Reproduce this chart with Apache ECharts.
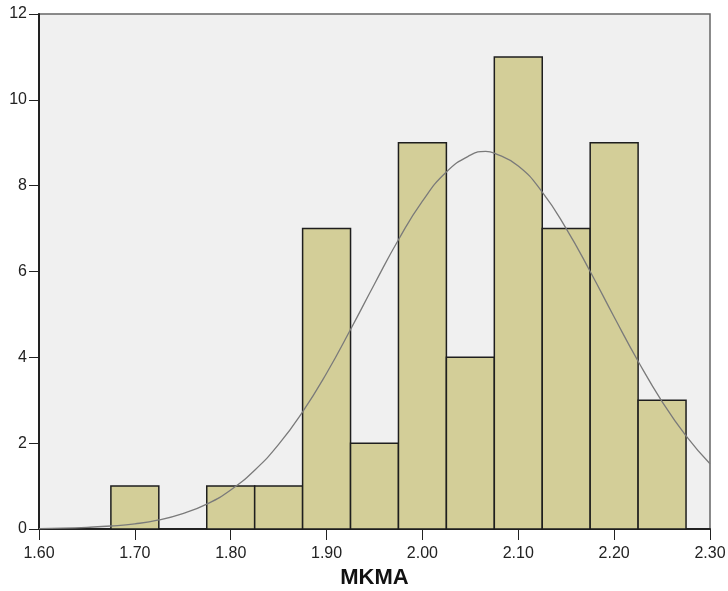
<!DOCTYPE html>
<html>
<head>
<meta charset="utf-8">
<script src="https://cdn.jsdelivr.net/npm/echarts@6/dist/echarts.min.js"></script>
<style>
  html, body { margin: 0; padding: 0; background: #ffffff; }
  #chart { width: 728px; height: 591px; }
</style>
</head>
<body>
<div id="chart"></div>
<script>
// Histogram of MKMA (bin width 0.05) with fitted normal curve
const binCenters = [1.70, 1.75, 1.80, 1.85, 1.90, 1.95, 2.00, 2.05, 2.10, 2.15, 2.20, 2.25];
const binCounts  = [1, 0, 1, 1, 7, 2, 9, 4, 11, 7, 9, 3];
const binWidth = 0.05;

// Normal curve sampled along the axis
const curveX = [1.600, 1.625, 1.650, 1.675, 1.700, 1.725, 1.750, 1.775, 1.800, 1.825,
                1.850, 1.875, 1.900, 1.925, 1.950, 1.975, 2.000, 2.025, 2.050, 2.066,
                2.075, 2.100, 2.125, 2.150, 2.175, 2.200, 2.225, 2.250, 2.275, 2.300];
const curveY = [0.01, 0.02, 0.04, 0.07, 0.12, 0.21, 0.36, 0.58, 0.91, 1.37,
                1.97, 2.73, 3.63, 4.65, 5.71, 6.74, 7.64, 8.32, 8.71, 8.80,
                8.76, 8.46, 7.85, 7.00, 6.00, 4.94, 3.91, 2.97, 2.17, 1.52];

const xTicks = { min: 1.6, max: 2.3, step: 0.1 };
const yTicks = { min: 0, max: 12, step: 2 };

const bars = binCenters
  .map((c, i) => [c - binWidth / 2, c + binWidth / 2, binCounts[i]])
  .filter(d => d[2] > 0);

const chart = echarts.init(document.getElementById('chart'));
chart.setOption({
  animation: false,
  backgroundColor: '#ffffff',
  grid: {
    left: 39, right: 18, top: 14, bottom: 62,
    containLabel: false,
    outerBoundsMode: 'none',
    show: true,
    backgroundColor: '#f0f0f0',
    borderColor: '#666666',
    borderWidth: 1.5
  },
  xAxis: {
    type: 'value',
    min: xTicks.min, max: xTicks.max, interval: xTicks.step,
    name: 'MKMA',
    nameLocation: 'middle',
    nameGap: 38,
    nameTextStyle: { fontFamily: 'Liberation Sans', fontWeight: 'bold', fontSize: 22, color: '#111' },
    axisLine: { show: true, onZero: false, lineStyle: { color: '#222', width: 2 } },
    axisTick: { show: true, length: 11, lineStyle: { color: '#222', width: 1 } },
    axisLabel: {
      margin: 17,
      fontFamily: 'Liberation Sans', fontSize: 16, color: '#222',
      formatter: v => v.toFixed(2)
    },
    splitLine: { show: false }
  },
  yAxis: {
    type: 'value',
    min: yTicks.min, max: yTicks.max, interval: yTicks.step,
    axisLine: { show: true, lineStyle: { color: '#222', width: 2 } },
    axisTick: { show: true, length: 10, lineStyle: { color: '#222', width: 1 } },
    axisLabel: { margin: 12, fontFamily: 'Liberation Sans', fontSize: 16, color: '#222' },
    splitLine: { show: false }
  },
  series: [
    {
      type: 'custom',
      data: bars,
      encode: { x: [0, 1], y: 2 },
      renderItem: function (params, api) {
        const p0 = api.coord([api.value(0), api.value(2)]);
        const p1 = api.coord([api.value(1), 0]);
        return {
          type: 'rect',
          shape: { x: p0[0], y: p0[1], width: p1[0] - p0[0], height: p1[1] - p0[1] },
          style: { fill: '#d3ce98', stroke: '#1e1e1e', lineWidth: 1.5 }
        };
      },
      z: 2
    },
    {
      type: 'line',
      data: curveX.map((x, i) => [x, curveY[i]]),
      smooth: true,
      showSymbol: false,
      lineStyle: { color: '#7a7a7a', width: 1.3 },
      z: 3
    }
  ]
});
</script>
</body>
</html>
